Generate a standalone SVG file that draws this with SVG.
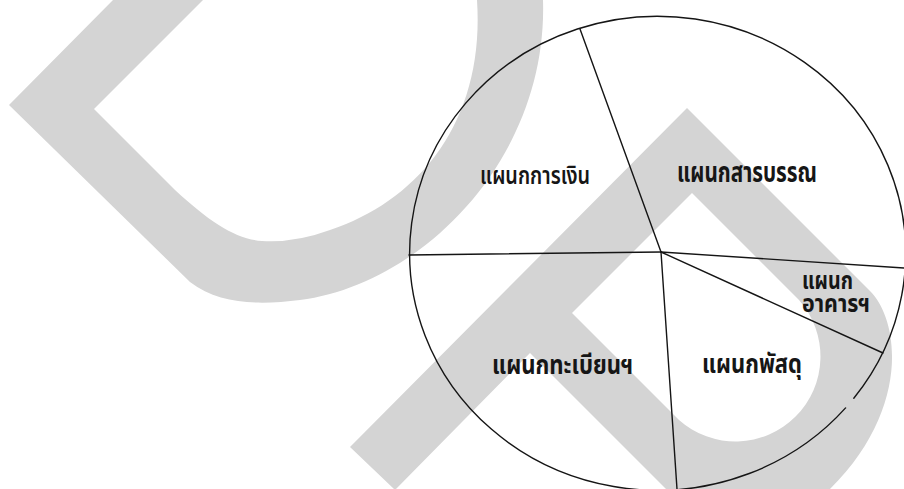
<svg xmlns="http://www.w3.org/2000/svg" width="904" height="489" viewBox="0 0 904 489">
<style>
.wm{fill:#d4d4d4;stroke:none}
.ln{fill:none;stroke:#151515;stroke-width:1.4;stroke-linecap:round}
.lb{font-family:"Noto Sans Thai","Noto Sans","DejaVu Sans",sans-serif;fill:#161616;font-weight:bold}
.lr{font-family:"Noto Sans Thai","Noto Sans","DejaVu Sans",sans-serif;fill:#161616;font-weight:600}
</style>
<rect width="904" height="489" fill="#ffffff"/>
<g id="watermark">
<path class="wm" d="M113,0 L9,105 L190,282 C220,305 260,305 300,300 C420,285 548,160 543,0 L477,0 C485,120 420,200 330,230 Q295,243 262,241 C235,239 210,222 175,190 L94,109 L203,0 Z"/>
<path class="wm" fill-rule="evenodd" d="M687,108 L870,291 C900,321 910,410 830,489 L666,489 L530,353 L396,489 L394,489 L350,447 Z M692,193 L572,313 L679,420 A85,85 0 0 0 799,300 Z"/>
</g>
<g id="pie-outline">
<path class="ln" d="M845.6,407.9 A248,237 0 1 1 853.8,398.3"/>
</g>
<g id="connectors">
<line class="ln" x1="661" y1="252" x2="580" y2="29"/>
<line class="ln" x1="661" y1="252" x2="409" y2="255" stroke-width="1.7"/>
<line class="ln" x1="661" y1="252" x2="904" y2="268"/>
<line class="ln" x1="661" y1="252" x2="883" y2="353"/>
<line class="ln" x1="661" y1="252" x2="677" y2="489"/>
</g>
<g id="sector-finance">
<text class="lr" x="480" y="184" font-size="24" textLength="110" lengthAdjust="spacingAndGlyphs">แผนกการเงิน</text>
</g>
<g id="sector-records">
<text class="lb" x="677" y="182" font-size="28" textLength="140" lengthAdjust="spacingAndGlyphs">แผนกสารบรรณ</text>
</g>
<g id="sector-buildings">
<text class="lb" x="802" y="289" font-size="25" textLength="51" lengthAdjust="spacingAndGlyphs">แผนก</text>
<text class="lb" x="802" y="312" font-size="25" textLength="68" lengthAdjust="spacingAndGlyphs">อาคารฯ</text>
</g>
<g id="sector-registration">
<text class="lb" x="492" y="374" font-size="27" textLength="141" lengthAdjust="spacingAndGlyphs">แผนกทะเบียนฯ</text>
</g>
<g id="sector-supplies">
<text class="lb" x="702" y="373" font-size="27" textLength="100" lengthAdjust="spacingAndGlyphs">แผนกพัสดุ</text>
</g>
</svg>
